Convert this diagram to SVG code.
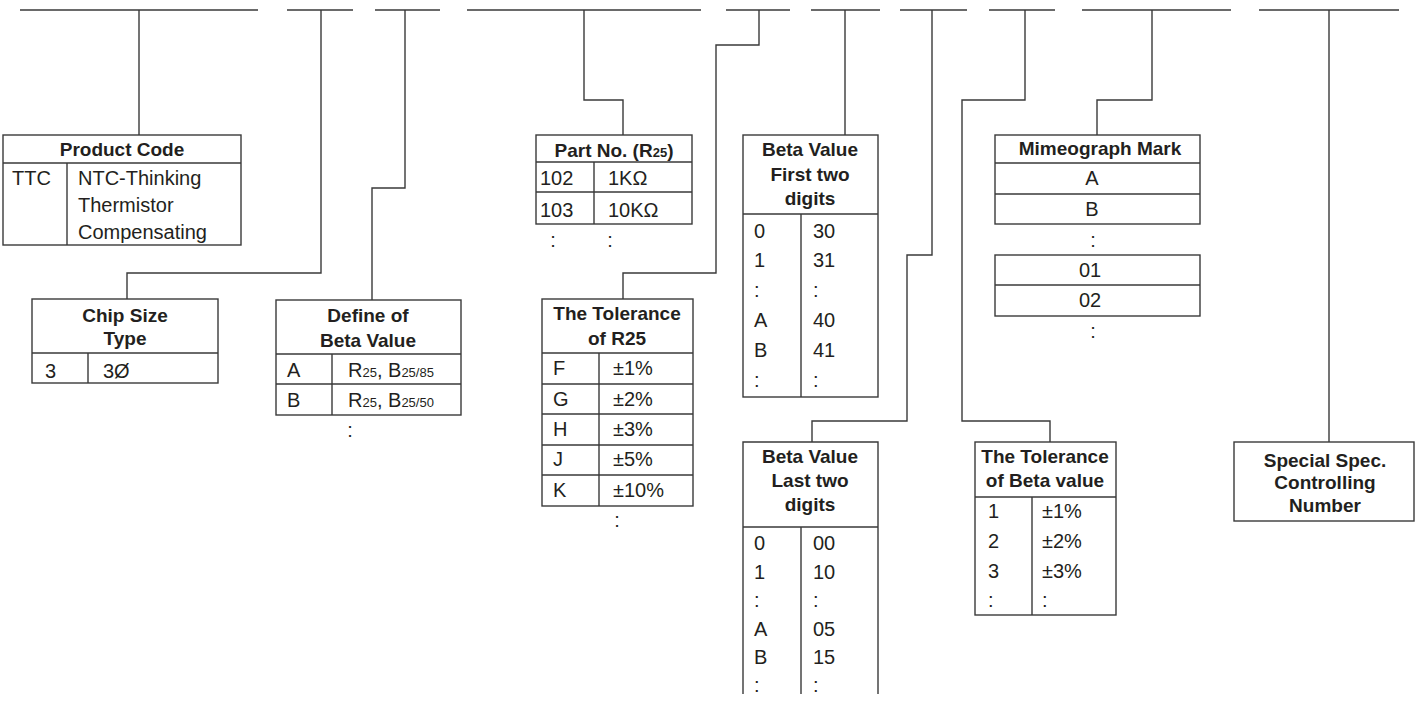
<svg xmlns="http://www.w3.org/2000/svg" width="1421" height="703" viewBox="0 0 1421 703">
<style>
.ln{fill:none;stroke:#3a3a3a;stroke-width:1.4}
.bx{fill:none;stroke:#3a3a3a;stroke-width:1.4}
.h{font-family:"Liberation Sans",Arial,sans-serif;font-weight:bold;font-size:19px;fill:#231f20;text-anchor:middle}
.t{font-family:"Liberation Sans",Arial,sans-serif;font-size:20px;fill:#231f20}
.c{text-anchor:middle}
.s{font-size:13px}
</style>
<rect width="1421" height="703" fill="#fff"/>
<g id="connectors">
<path class="ln" d="M20 10H258M139 10V135"/>
<path class="ln" d="M287 10H353M321 10V273H127V299"/>
<path class="ln" d="M375 10H440M405 10V188H372V300"/>
<path class="ln" d="M467 10H701M584 10V100H623V135"/>
<path class="ln" d="M726 10H790M759 10V45H716V273H623V299"/>
<path class="ln" d="M811 10H880M845 10V135"/>
<path class="ln" d="M900 10H967M932 10V255H907V421H812V442"/>
<path class="ln" d="M989 10H1055M1025 10V100H962V421H1050V442"/>
<path class="ln" d="M1082 10H1231M1152 10V100H1097V135"/>
<path class="ln" d="M1259 10H1399M1329 10V442"/>
</g>
<g id="product-code">
<rect class="bx" x="3" y="135" width="238" height="110"/>
<path class="ln" d="M3 163H241M67 163V245"/>
<text class="h" x="122" y="156">Product Code</text>
<text class="t" x="12" y="185">TTC</text>
<text class="t" x="78" y="185">NTC-Thinking</text>
<text class="t" x="78" y="212">Thermistor</text>
<text class="t" x="78" y="239">Compensating</text>
</g>
<g id="chip-size">
<rect class="bx" x="32" y="299" width="186" height="84"/>
<path class="ln" d="M32 353H218M88 353V383"/>
<text class="h" x="125" y="322">Chip Size</text>
<text class="h" x="125" y="345">Type</text>
<text class="t" x="45" y="378">3</text>
<text class="t" x="103" y="378">3Ø</text>
</g>
<g id="define-beta">
<rect class="bx" x="276" y="300" width="185" height="115"/>
<path class="ln" d="M276 354H461M276 384H461M332 354V415"/>
<text class="h" x="368" y="322">Define of</text>
<text class="h" x="368" y="347">Beta Value</text>
<text class="t" x="287" y="377">A</text>
<text class="t" x="348" y="377">R<tspan class="s">25</tspan>, B<tspan class="s">25/85</tspan></text>
<text class="t" x="287" y="407">B</text>
<text class="t" x="348" y="407">R<tspan class="s">25</tspan>, B<tspan class="s">25/50</tspan></text>
<text class="t c" x="350" y="437">:</text>
</g>
<g id="part-no">
<rect class="bx" x="536" y="135" width="156" height="89"/>
<path class="ln" d="M536 162H692M536 192H692M594 162V224"/>
<text class="h" x="614" y="157">Part No. (R<tspan class="s">25</tspan>)</text>
<text class="t" x="540" y="185">102</text>
<text class="t" x="608" y="185">1KΩ</text>
<text class="t" x="540" y="217">103</text>
<text class="t" x="608" y="217">10KΩ</text>
<text class="t c" x="553" y="247">:</text>
<text class="t c" x="610" y="247">:</text>
</g>
<g id="tolerance-r25">
<rect class="bx" x="542" y="299" width="151" height="207"/>
<path class="ln" d="M542 353H693M542 384H693M542 414H693M542 445H693M542 475H693M599 353V506"/>
<text class="h" x="617" y="320">The Tolerance</text>
<text class="h" x="617" y="345">of R25</text>
<text class="t" x="553" y="375">F</text><text class="t" x="613" y="375">±1%</text>
<text class="t" x="553" y="406">G</text><text class="t" x="613" y="406">±2%</text>
<text class="t" x="553" y="436">H</text><text class="t" x="613" y="436">±3%</text>
<text class="t" x="553" y="466">J</text><text class="t" x="613" y="466">±5%</text>
<text class="t" x="553" y="497">K</text><text class="t" x="613" y="497">±10%</text>
<text class="t c" x="617" y="527">:</text>
</g>
<g id="beta-first">
<rect class="bx" x="743" y="135" width="135" height="262"/>
<path class="ln" d="M743 214H878M801 214V397"/>
<text class="h" x="810" y="156">Beta Value</text>
<text class="h" x="810" y="181">First two</text>
<text class="h" x="810" y="205">digits</text>
<text class="t" x="754" y="238">0</text><text class="t" x="813" y="238">30</text>
<text class="t" x="754" y="267">1</text><text class="t" x="813" y="267">31</text>
<text class="t" x="754" y="297">:</text><text class="t" x="813" y="297">:</text>
<text class="t" x="754" y="327">A</text><text class="t" x="813" y="327">40</text>
<text class="t" x="754" y="357">B</text><text class="t" x="813" y="357">41</text>
<text class="t" x="754" y="387">:</text><text class="t" x="813" y="387">:</text>
</g>
<g id="beta-last">
<path class="ln" d="M743 694V442H878V694M743 527H878M801 527V694"/>
<text class="h" x="810" y="463">Beta Value</text>
<text class="h" x="810" y="487">Last two</text>
<text class="h" x="810" y="511">digits</text>
<text class="t" x="754" y="550">0</text><text class="t" x="813" y="550">00</text>
<text class="t" x="754" y="579">1</text><text class="t" x="813" y="579">10</text>
<text class="t" x="754" y="607">:</text><text class="t" x="813" y="607">:</text>
<text class="t" x="754" y="636">A</text><text class="t" x="813" y="636">05</text>
<text class="t" x="754" y="664">B</text><text class="t" x="813" y="664">15</text>
<text class="t" x="754" y="692">:</text><text class="t" x="813" y="692">:</text>
</g>
<g id="mimeograph">
<rect class="bx" x="995" y="135" width="205" height="89"/>
<path class="ln" d="M995 163H1200M995 194H1200"/>
<rect class="bx" x="995" y="255" width="205" height="61"/>
<path class="ln" d="M995 285H1200"/>
<text class="h" x="1100" y="155">Mimeograph Mark</text>
<text class="t c" x="1092" y="185">A</text>
<text class="t c" x="1092" y="216">B</text>
<text class="t c" x="1093" y="247">:</text>
<text class="t c" x="1090" y="277">01</text>
<text class="t c" x="1090" y="307">02</text>
<text class="t c" x="1093" y="338">:</text>
</g>
<g id="tolerance-beta">
<rect class="bx" x="975" y="442" width="141" height="173"/>
<path class="ln" d="M975 497H1116M1032 497V615"/>
<text class="h" x="1045" y="463">The Tolerance</text>
<text class="h" x="1045" y="487">of Beta value</text>
<text class="t" x="988" y="518">1</text><text class="t" x="1042" y="518">±1%</text>
<text class="t" x="988" y="548">2</text><text class="t" x="1042" y="548">±2%</text>
<text class="t" x="988" y="578">3</text><text class="t" x="1042" y="578">±3%</text>
<text class="t" x="988" y="607">:</text><text class="t" x="1042" y="607">:</text>
</g>
<g id="special-spec">
<rect class="bx" x="1234" y="442" width="180" height="79"/>
<text class="h" x="1325" y="467">Special Spec.</text>
<text class="h" x="1325" y="489">Controlling</text>
<text class="h" x="1325" y="512">Number</text>
</g>
</svg>
